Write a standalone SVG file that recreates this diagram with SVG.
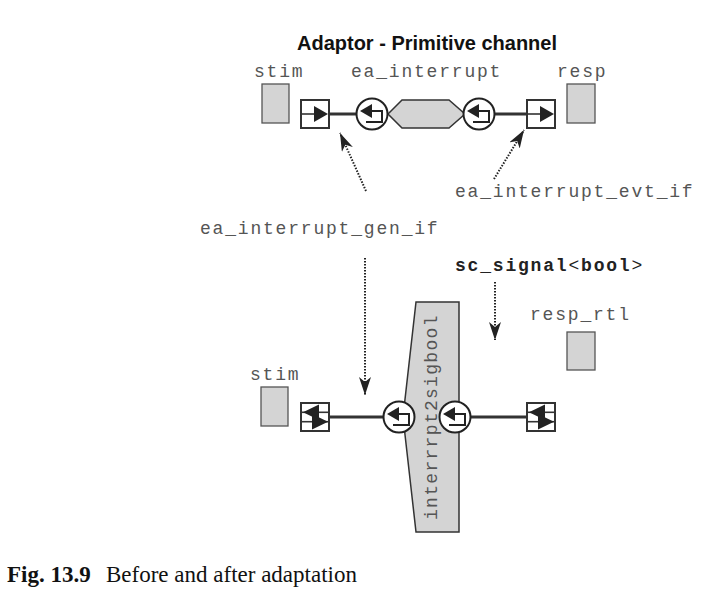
<svg xmlns="http://www.w3.org/2000/svg" xmlns:xlink="http://www.w3.org/1999/xlink" width="703" height="595" viewBox="0 0 703 595">
<style>
.mono{font-family:"Liberation Mono","DejaVu Sans Mono",monospace;font-size:18px;letter-spacing:1.8px;fill:#555}
.monob{font-family:"Liberation Mono","DejaVu Sans Mono",monospace;font-size:18px;letter-spacing:1.8px;fill:#222;font-weight:bold}
.box{fill:#d4d4d4;stroke:#555;stroke-width:1.3}
.port{fill:#fff;stroke:#333;stroke-width:2}
.pline{stroke:#333;stroke-width:1.6;fill:none}
.tri{fill:#222}
.wire{stroke:#333;stroke-width:3;fill:none}
.dot{stroke:#222;stroke-width:2;stroke-dasharray:1.5 1.5;fill:none;marker-end:url(#ah)}
.chan{fill:#d4d4d4;stroke:#333;stroke-width:1.5}
</style>
<defs>
<marker id="ah" viewBox="0 0 18 12" refX="18" refY="6" markerWidth="18" markerHeight="12" markerUnits="userSpaceOnUse" orient="auto">
<path d="M0,0 L18,6 L0,12 L5,6 z" fill="#222"/>
</marker>
<g id="ifc">
<circle r="15.5" fill="#fff" stroke="#222" stroke-width="2"/>
<path d="M-12,-3 L0,-10 L0,4 z" fill="#222"/>
<path d="M0,-3 L10,-3 L10,8 L-6,8" fill="none" stroke="#222" stroke-width="2"/>
</g>
<g id="portOut">
<rect x="0" y="0" width="28" height="28" class="port"/>
<line x1="0" y1="14" x2="14" y2="14" class="pline"/>
<path d="M13,6 L27,14 L13,22 z" class="tri"/>
</g>
<g id="portIO">
<rect x="0" y="0" width="28" height="28" class="port"/>
<line x1="0" y1="9.3" x2="28" y2="9.3" class="pline"/>
<line x1="0" y1="18.7" x2="28" y2="18.7" class="pline"/>
<path d="M2,9.3 L18,1.5 L18,17 z" class="tri"/>
<path d="M27,18.7 L11,11 L11,26.5 z" class="tri"/>
</g>
</defs>
<rect width="703" height="595" fill="#fff"/>

<text x="427" y="50" text-anchor="middle" font-family="Liberation Sans, Arial, sans-serif" font-weight="bold" font-size="20" fill="#111">Adaptor - Primitive channel</text>

<g id="connectors">
<line x1="329" y1="114" x2="357" y2="114" class="wire"/>
<line x1="494" y1="114" x2="527" y2="114" class="wire"/>
<line x1="329" y1="417" x2="384" y2="417" class="wire"/>
<line x1="470" y1="417" x2="527" y2="417" class="wire"/>
<line x1="366" y1="191" x2="340" y2="133" class="dot"/>
<line x1="494" y1="179" x2="524" y2="130" class="dot"/>
<line x1="365" y1="258" x2="365" y2="395" class="dot"/>
<line x1="495" y1="282" x2="495" y2="340" class="dot"/>
</g>

<g id="stim-top">
<rect x="262" y="84" width="27" height="39" class="box"/>
<text x="254" y="77" class="mono">stim</text>
</g>
<g id="stim-top-port"><use xlink:href="#portOut" x="301" y="100"/></g>
<g id="ea_interrupt">
<text x="351" y="77" class="mono">ea_interrupt</text>
<polygon points="388,114 402,100 449,100 465,114 449,128 402,128" class="chan"/>
<use xlink:href="#ifc" x="372" y="114"/>
<use xlink:href="#ifc" x="479" y="114"/>
</g>
<g id="resp-top-port"><use xlink:href="#portOut" x="527" y="100"/></g>
<g id="resp-top">
<rect x="567" y="84" width="28" height="39" class="box"/>
<text x="557" y="77" class="mono">resp</text>
</g>

<g id="label-evt"><text x="455" y="197" class="mono">ea_interrupt_evt_if</text></g>
<g id="label-gen"><text x="200" y="234" class="mono">ea_interrupt_gen_if</text></g>
<g id="label-signal"><text x="455" y="271" class="monob">sc_signal<tspan font-weight="normal">&lt;</tspan>bool<tspan font-weight="normal">&gt;</tspan></text></g>

<g id="resp_rtl">
<text x="530" y="320" class="mono">resp_rtl</text>
<rect x="567" y="332" width="28" height="38" class="box"/>
</g>
<g id="stim-bottom">
<text x="250" y="380" class="mono">stim</text>
<rect x="261" y="387" width="27" height="39" class="box"/>
</g>
<g id="stim-bottom-port"><use xlink:href="#portIO" x="301" y="403"/></g>
<g id="interrrpt2sigbool">
<polygon points="416,302 459,302 459,532 416,532 403,417" class="chan"/>
<text transform="translate(437,520) rotate(-90)" class="mono" style="fill:#555;letter-spacing:1.3px">interrrpt2sigbool</text>
<use xlink:href="#ifc" x="399" y="417"/>
<use xlink:href="#ifc" x="455" y="417"/>
</g>
<g id="resp-bottom-port"><use xlink:href="#portIO" x="527" y="403"/></g>

<text x="7" y="582" font-family="Liberation Serif, Times New Roman, serif" font-size="23" fill="#111"><tspan font-weight="bold">Fig. 13.9</tspan><tspan x="106">Before and after adaptation</tspan></text>
</svg>
